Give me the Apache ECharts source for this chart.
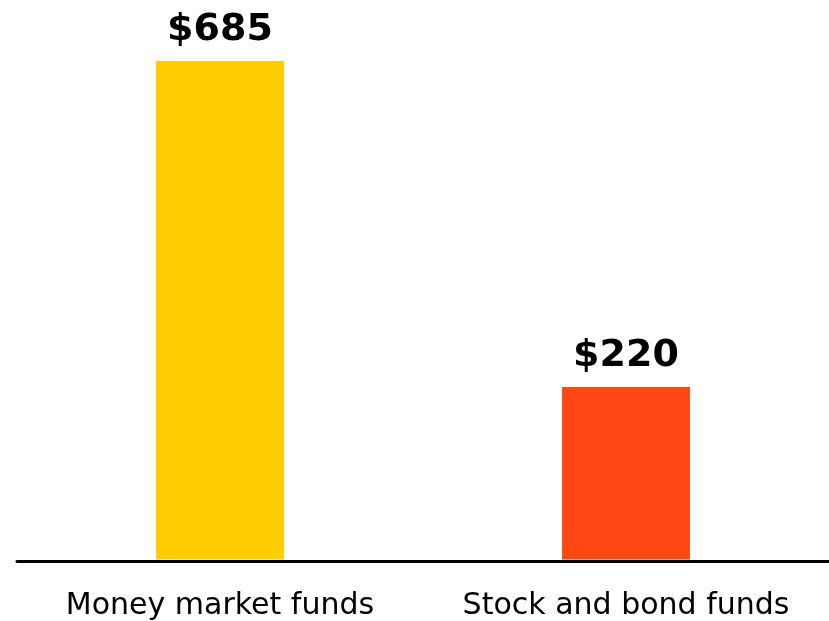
<!DOCTYPE html>
<html><head><meta charset="utf-8">
<script src="https://cdn.jsdelivr.net/npm/echarts@6/dist/echarts.min.js"></script>
<style>html,body{margin:0;padding:0;background:#fff}#c{width:829px;height:621px}</style>
</head><body><div id="c"></div>
<script>
const categories = ['Money market funds', 'Stock and bond funds'];
const values = [685, 220];
const valueLabels = ['$685', '$220'];
const barColors = ['#FFCD00', '#FF4713'];
const axisMin = -28;
const axisMax = 685;

const chart = echarts.init(document.getElementById('c'), null, {renderer: 'canvas'});
const FONT = '"DejaVu Sans"';
chart.setOption({
  animation: false,
  grid: {left: 17, right: 0, top: 61, bottom: 60, containLabel: false},
  xAxis: {
    type: 'category', data: categories,
    axisLine: {onZero: false, lineStyle: {color: '#000', width: 3}},
    axisTick: {show: false},
    axisLabel: {color: '#000', fontSize: 30, fontFamily: FONT, margin: 30, interval: 0, hideOverlap: false}
  },
  yAxis: {type: 'value', min: axisMin, max: axisMax, show: false, splitLine: {show: false}},
  series: [{
    type: 'custom',
    data: values.map((v, i) => [i, v]),
    renderItem: function (params, api) {
      const i = api.value(0);
      const top = api.coord([i, api.value(1)]);
      const base = api.coord([i, axisMin]);
      const w = api.size([1, 0])[0] * 0.315;
      return {
        type: 'group',
        children: [
          {type: 'rect', shape: {x: top[0] - w / 2, y: top[1], width: w, height: base[1] - top[1] - 1.5},
           style: {fill: barColors[i]}},
          {type: 'text', x: top[0], y: top[1] - 12,
           style: {text: valueLabels[i], fill: '#000', font: 'bold 38px ' + FONT, textAlign: 'center', textVerticalAlign: 'bottom'}}
        ]
      };
    }
  }]
});
</script></body></html>
